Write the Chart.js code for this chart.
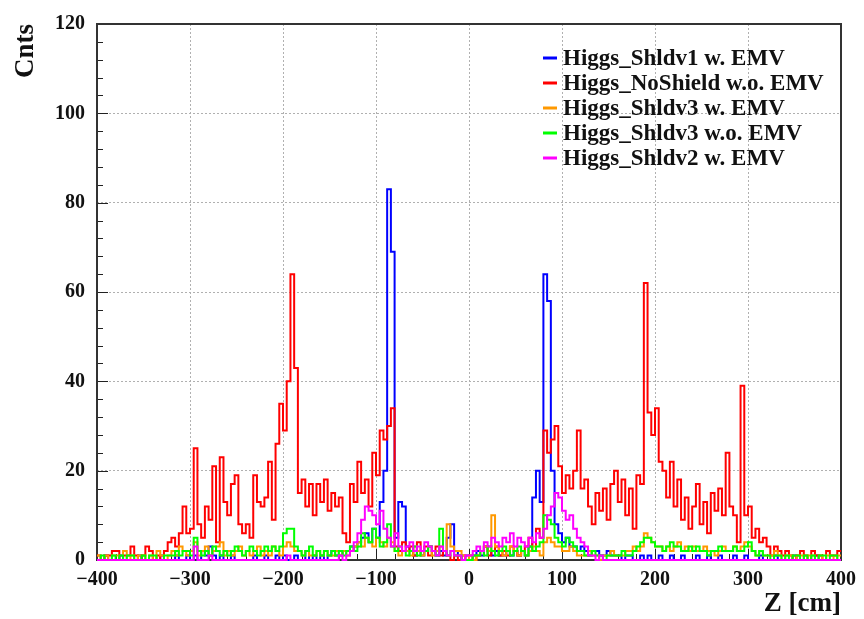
<!DOCTYPE html>
<html>
<head>
<meta charset="utf-8">
<title>Cnts vs Z</title>
<script src="https://cdn.jsdelivr.net/npm/chart.js@4.4.1/dist/chart.umd.min.js"></script>
<style>
    html, body { margin: 0; padding: 0; background: #fff; }
</style>
</head>
<body>
<canvas id="chart" width="864" height="619"></canvas>
<script>
// histogram binning (cm)
const zMin = -400;
const zMax = 400;
const binWidth = 4;

const xTickValues = [-400, -300, -200, -100, 0, 100, 200, 300, 400];
const yTickValues = [0, 20, 40, 60, 80, 100, 120];

const seriesNames = [
    'Higgs_Shldv1 w. EMV',
    'Higgs_NoShield w.o. EMV',
    'Higgs_Shldv3 w. EMV',
    'Higgs_Shldv3 w.o. EMV',
    'Higgs_Shldv2 w. EMV'
];
const seriesColors = ['#0000ff', '#ff0000', '#ff9900', '#00ff00', '#ff00ff'];

// counts per 4 cm bin, 20 bins per row (80 cm)
const shldv1Emv = [
    0,0,1,0,0,0,1,0,0,0,0,1,0,0,0,0,0,1,0,0,
    0,1,0,0,1,0,1,0,2,1,3,1,0,1,0,0,1,0,0,0,
    0,0,1,0,0,1,0,0,1,0,1,0,0,1,0,0,2,0,1,0,
    1,0,1,2,1,1,2,2,3,3,4,5,6,4,7,5,13,20,83,69,
    5,13,12,3,2,1,2,1,2,3,2,1,2,1,5,8,2,1,0,1,
    0,1,2,1,3,2,1,2,1,1,2,1,2,1,2,1,3,14,20,13,
    64,58,20,8,6,4,5,3,3,2,3,2,1,2,2,1,1,2,1,1,
    1,0,1,1,0,0,1,0,1,0,0,1,0,0,1,0,0,1,0,0,
    0,1,0,0,1,0,0,1,0,0,0,1,0,0,1,0,0,0,1,0,
    0,0,1,0,0,0,0,1,0,0,0,0,0,1,0,0,0,0,0,0
];
const noShieldNoEmv = [
    1,0,1,1,2,2,0,1,1,3,1,0,1,3,2,0,1,0,2,4,
    5,3,6,12,6,7,25,8,5,12,9,21,4,23,13,10,17,19,8,6,
    8,5,19,13,12,14,22,9,26,35,29,40,64,43,15,18,12,17,10,17,
    13,18,11,15,12,14,6,4,17,13,22,15,18,12,24,19,29,27,30,34,
    3,2,4,2,3,1,4,2,3,1,2,3,1,2,1,0,1,0,1,0,
    1,0,1,2,3,1,2,3,1,2,1,3,2,1,2,3,5,2,7,5,
    29,24,27,30,21,15,19,16,20,29,16,18,12,8,15,11,16,9,17,20,
    13,18,10,16,7,19,17,62,33,28,34,22,20,14,22,12,18,9,14,7,
    12,17,8,13,6,15,11,16,10,24,12,10,4,39,10,12,5,7,4,5,
    3,1,3,2,1,2,1,0,1,2,1,0,2,1,1,0,2,1,1,2
];
const shldv3Emv = [
    1,0,1,0,1,1,0,2,0,1,0,1,1,0,1,0,2,1,0,1,
    2,1,3,2,1,2,4,1,2,3,1,2,3,4,1,2,1,2,3,1,
    2,1,2,3,1,2,1,3,2,1,3,4,3,2,2,1,2,1,1,2,
    1,2,1,1,2,1,2,1,2,3,4,3,5,4,3,5,4,3,5,4,
    2,1,2,2,1,3,2,1,2,3,1,2,3,2,8,3,2,2,1,0,
    1,0,1,2,3,2,10,3,2,1,2,3,2,1,2,1,2,3,2,1,
    4,5,4,3,3,2,2,3,2,1,1,1,2,1,1,0,1,1,2,1,
    1,1,2,2,3,2,3,6,5,4,3,3,2,3,2,3,4,2,3,2,
    3,2,2,3,2,2,1,2,3,2,2,3,2,3,4,3,2,1,2,1,
    1,1,2,1,0,1,1,0,1,1,0,1,1,0,1,0,1,1,0,1
];
const shldv3NoEmv = [
    0,1,0,0,1,0,1,0,1,1,0,0,1,0,1,1,0,0,1,1,
    1,2,1,2,2,1,5,2,1,2,1,3,2,1,2,1,2,3,2,1,
    2,3,2,1,2,3,2,3,2,3,6,7,7,3,2,1,2,3,1,2,
    1,2,1,2,1,2,1,2,3,2,3,6,5,4,7,5,3,4,8,3,
    2,3,2,1,2,3,1,2,2,3,2,1,7,2,1,2,1,1,0,0,
    0,1,1,2,1,3,2,1,2,3,2,1,2,3,2,1,3,2,3,4,
    10,9,8,5,4,3,5,4,3,2,2,1,1,2,1,1,0,1,1,1,
    1,2,1,1,2,3,4,5,5,4,3,3,2,3,4,3,3,2,2,3,
    2,3,2,2,1,2,2,3,2,2,2,3,2,2,3,4,2,1,2,1,
    1,0,1,1,0,1,0,1,1,0,1,0,1,0,1,1,0,1,1,0
];
const shldv2Emv = [
    0,0,0,0,0,0,0,0,0,0,0,0,0,0,0,0,0,0,0,0,
    0,0,0,0,0,0,3,0,0,0,1,0,0,0,0,0,0,0,0,0,
    0,0,0,0,0,0,0,0,0,0,0,1,0,0,0,0,0,0,0,0,
    0,0,0,0,0,1,0,1,2,4,6,9,12,11,10,8,11,7,5,3,
    6,3,2,3,4,2,3,2,4,3,2,1,3,2,1,2,1,1,0,1,
    1,2,3,2,4,3,5,4,3,5,4,6,3,5,4,3,5,4,6,5,
    7,10,12,15,14,11,9,10,7,5,4,3,1,1,0,1,0,0,0,0,
    0,0,0,0,0,0,0,0,0,0,0,0,0,0,0,0,0,0,0,0,
    0,0,0,0,0,0,0,0,0,0,0,0,0,0,0,0,0,0,0,0,
    0,0,0,0,0,0,0,0,0,0,0,0,0,0,0,0,0,0,0,0
];

const seriesValues = [shldv1Emv, noShieldNoEmv, shldv3Emv, shldv3NoEmv, shldv2Emv];

const serif = '"Liberation Serif", "DejaVu Serif", serif';

// histogram outline: point at each left bin edge, plus closing point at zMax
function toSteps(values) {
    const pts = values.map((v, i) => ({ x: zMin + i * binWidth, y: v }));
    pts.push({ x: zMax, y: values[values.length - 1] });
    return pts;
}

function fmtTick(v) {
    return v < 0 ? '\u2212' + Math.abs(v) : String(v);
}

// ROOT-like frame: inward ticks, axis titles, legend
const rootFrame = {
    id: 'rootFrame',
    beforeDatasetsDraw(chart) {
        const { ctx, chartArea: a, scales: { x, y } } = chart;
        ctx.save();

        ctx.strokeStyle = '#222';
        ctx.lineWidth = 1;
        ctx.beginPath();
        for (let v = 0; v <= 120; v += 4) {
            const py = Math.round(y.getPixelForValue(v)) + 0.5;
            const len = v % 20 === 0 ? 11 : 6;
            ctx.moveTo(a.left, py);
            ctx.lineTo(a.left + len, py);
        }
        for (let v = zMin; v <= zMax; v += 20) {
            const px = Math.round(x.getPixelForValue(v)) + 0.5;
            const len = v % 100 === 0 ? 11 : 6;
            ctx.moveTo(px, a.bottom);
            ctx.lineTo(px, a.bottom - len);
        }
        ctx.stroke();

        ctx.strokeStyle = '#333';
        ctx.lineWidth = 2;
        ctx.strokeRect(a.left, a.top, a.right - a.left, a.bottom - a.top);
        ctx.restore();
    },
    afterDraw(chart) {
        const { ctx, chartArea: a } = chart;
        ctx.save();

        ctx.fillStyle = '#111';
        ctx.font = 'bold 27px ' + serif;
        ctx.textAlign = 'right';
        ctx.textBaseline = 'alphabetic';
        ctx.fillText('Z [cm]', a.right, 611);

        ctx.save();
        ctx.translate(33, a.top);
        ctx.rotate(-Math.PI / 2);
        ctx.textAlign = 'right';
        ctx.fillText('Cnts', 0, 0);
        ctx.restore();

        ctx.font = 'bold 23px ' + serif;
        ctx.textAlign = 'left';
        seriesNames.forEach((name, i) => {
            const base = 65 + i * 25;
            ctx.strokeStyle = seriesColors[i];
            ctx.lineWidth = 3;
            ctx.beginPath();
            ctx.moveTo(543, base - 7);
            ctx.lineTo(557, base - 7);
            ctx.stroke();
            ctx.fillStyle = '#111';
            ctx.fillText(name, 563, base);
        });

        ctx.restore();
    }
};

const datasets = seriesNames.map((name, i) => ({
    label: name,
    data: toSteps(seriesValues[i]),
    borderColor: seriesColors[i],
    borderWidth: 2,
    pointRadius: 0,
    stepped: 'before',
    fill: false,
    // let the zero-level line show over the bottom axis
    clip: { left: 0, right: 0, top: 0, bottom: 2 },
    // blue drawn first, magenta last (on top)
    order: seriesNames.length - i
}));

const tickFont = { family: serif, size: 20, weight: 'bold' };

new Chart(document.getElementById('chart'), {
    type: 'line',
    data: { datasets },
    options: {
        responsive: false,
        animation: false,
        layout: { padding: { top: 20, right: 21, left: 0, bottom: 0 } },
        plugins: {
            legend: { display: false },
            tooltip: { enabled: false }
        },
        scales: {
            x: {
                type: 'linear',
                min: zMin,
                max: zMax,
                afterBuildTicks: s => { s.ticks = xTickValues.map(v => ({ value: v })); },
                afterFit: s => { s.height = 59; },
                ticks: {
                    color: '#111',
                    font: tickFont,
                    padding: 8,
                    maxRotation: 0,
                    callback: fmtTick
                },
                grid: { color: '#b0b0b0', lineWidth: 1, drawTicks: false },
                border: { display: false, dash: [2, 2] }
            },
            y: {
                min: 0,
                max: 120,
                afterBuildTicks: s => { s.ticks = yTickValues.map(v => ({ value: v })); },
                afterFit: s => { s.width = 97; },
                ticks: {
                    color: '#111',
                    font: tickFont,
                    padding: 12,
                    callback: fmtTick
                },
                grid: { color: '#b0b0b0', lineWidth: 1, drawTicks: false },
                border: { display: false, dash: [2, 2] }
            }
        }
    },
    plugins: [rootFrame]
});
</script>
</body>
</html>
